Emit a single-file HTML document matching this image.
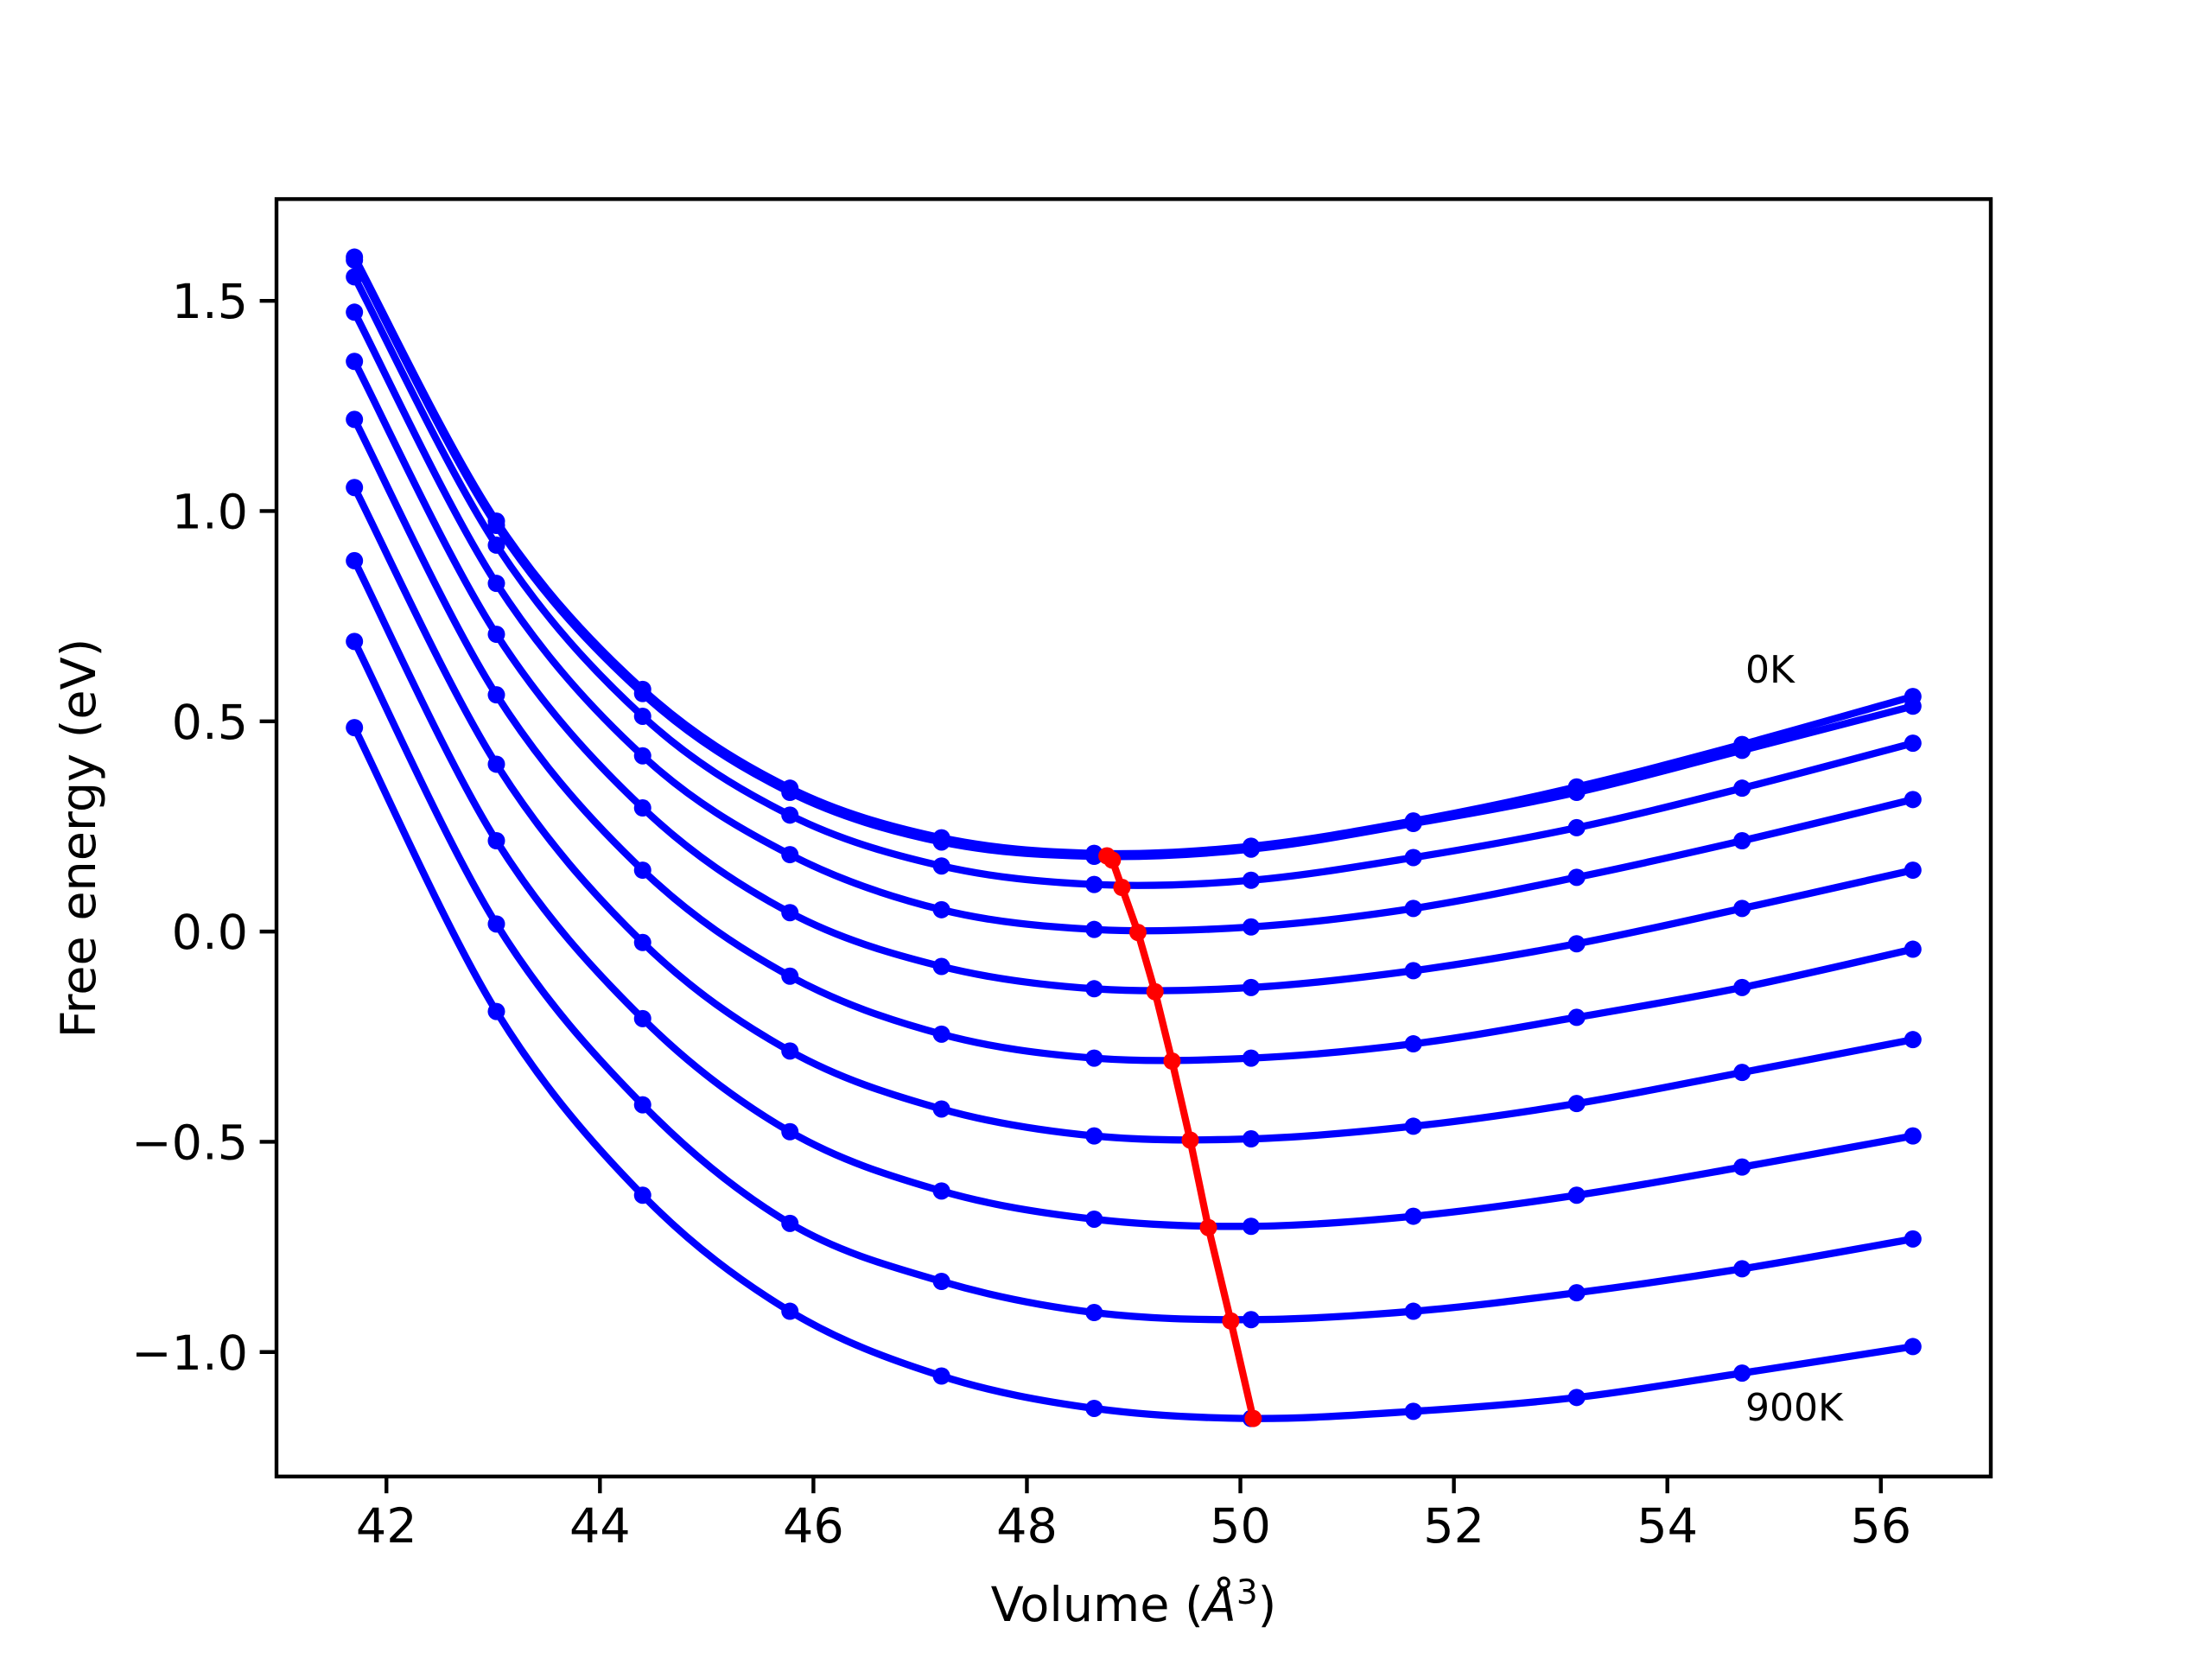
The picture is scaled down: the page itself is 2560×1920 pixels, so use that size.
<!DOCTYPE html>
<html><head><meta charset="utf-8"><style>
html,body{margin:0;padding:0;background:#fff;}
svg{display:block;font-family:"DejaVu Sans","Liberation Sans",sans-serif;}
</style></head><body>
<svg id="chart" width="2560" height="1920" viewBox="0 0 2560 1920" xmlns="http://www.w3.org/2000/svg">
<rect width="2560" height="1920" fill="#fff"/>
<g id="curves"></g>
<g id="minline"></g>
<g id="axes"></g>
<text x="2020" y="790" font-size="44">0K</text>
<text x="2020" y="1644" font-size="44">900K</text>
<text x="1312" y="1876" font-size="55.6" text-anchor="middle">Volume (<tspan font-style="italic">Å</tspan><tspan font-size="39" dy="-20">3</tspan><tspan dy="20">)</tspan></text>
<text x="0" y="0" font-size="55.6" text-anchor="middle" transform="translate(110,970) rotate(-90)">Free energy (eV)</text>
</svg>
<script>
const volumes = [41.7, 43.03, 44.4, 45.78, 47.2, 48.63, 50.1, 51.62, 53.15, 54.7, 56.3];
const energies0 = [1.604, 0.976, 0.576, 0.341, 0.223, 0.186, 0.203, 0.263, 0.344, 0.445, 0.559];
const energies1 = [1.597, 0.966, 0.566, 0.331, 0.213, 0.179, 0.196, 0.257, 0.331, 0.431, 0.536];
const energies2 = [1.557, 0.919, 0.512, 0.277, 0.156, 0.112, 0.122, 0.176, 0.247, 0.341, 0.448];
const energies3 = [1.473, 0.828, 0.418, 0.183, 0.052, 0.005, 0.011, 0.055, 0.129, 0.216, 0.314];
const energies4 = [1.356, 0.707, 0.294, 0.045, -0.083, -0.136, -0.133, -0.093, -0.029, 0.055, 0.146];
const energies5 = [1.218, 0.563, 0.146, -0.106, -0.244, -0.301, -0.301, -0.267, -0.204, -0.133, -0.042];
const energies6 = [1.056, 0.398, -0.026, -0.284, -0.422, -0.486, -0.493, -0.463, -0.409, -0.335, -0.257];
const energies7 = [0.882, 0.216, -0.207, -0.476, -0.617, -0.684, -0.701, -0.677, -0.627, -0.560, -0.486];
const energies8 = [0.690, 0.018, -0.412, -0.694, -0.832, -0.906, -0.923, -0.903, -0.859, -0.802, -0.731];
const energies9 = [0.485, -0.190, -0.627, -0.903, -1.057, -1.134, -1.158, -1.141, -1.108, -1.050, -0.987];
const minVolumes = [48.75, 48.80, 48.89, 49.04, 49.20, 49.36, 49.53, 49.70, 49.91, 50.12];
const minEnergies = [0.180, 0.170, 0.105, -0.002, -0.143, -0.308, -0.496, -0.704, -0.926, -1.158];
const xTicks = [42, 44, 46, 48, 50, 52, 54, 56];
const yTicks = [1.5, 1.0, 0.5, 0.0, -0.5, -1.0];
const yTickLabels = ["1.5", "1.0", "0.5", "0.0", "\u22120.5", "\u22121.0"];

const L=320,R=2304,T=230.4,B=1708.8;
const X0=40.97,X1=57.03,Y0=-1.296,Y1=1.742;
const sx=v=>L+(v-X0)/(X1-X0)*(R-L);
const sy=v=>B-(v-Y0)/(Y1-Y0)*(B-T);
const NS="http://www.w3.org/2000/svg";
function mk(tag,attrs,parent){const e=document.createElementNS(NS,tag);for(const k in attrs)e.setAttribute(k,attrs[k]);parent.appendChild(e);return e;}

function smoothPath(xs,ys){
  const p=xs.map((x,i)=>[sx(x),sy(ys[i])]);
  let d="M"+p[0][0]+","+p[0][1];
  for(let i=0;i<p.length-1;i++){
    const p0=p[i-1]||p[i],p1=p[i],p2=p[i+1],p3=p[i+2]||p2;
    const c1=[p1[0]+(p2[0]-p0[0])/6,p1[1]+(p2[1]-p0[1])/6];
    const c2=[p2[0]-(p3[0]-p1[0])/6,p2[1]-(p3[1]-p1[1])/6];
    d+=" C"+c1[0]+","+c1[1]+" "+c2[0]+","+c2[1]+" "+p2[0]+","+p2[1];
  }
  return d;
}

const series=[energies0,energies1,energies2,energies3,energies4,energies5,energies6,energies7,energies8,energies9];
const cg=document.getElementById('curves');
series.forEach((s,k)=>{
  const g=mk('g',{},cg);
  
  
  const path=mk('path',{d:smoothPath(volumes,s),fill:'none',stroke:'#0000ff','stroke-width':8.3,'stroke-linejoin':'round'},g);
  
  
  s.forEach((v,i)=>{
    const c=mk('circle',{cx:sx(volumes[i]),cy:sy(v),r:10,fill:'#0000ff'},g);
    
    
  });
});

const mg=document.getElementById('minline');
const pl=mk('polyline',{points:minVolumes.map((v,i)=>sx(v)+","+sy(minEnergies[i])).join(" "),fill:'none',stroke:'#ff0000','stroke-width':8.3,'stroke-linejoin':'round'},mg);


minVolumes.forEach((v,i)=>{
  const c=mk('circle',{cx:sx(v),cy:sy(minEnergies[i]),r:10,fill:'#ff0000'},mg);
  
  
});

const ag=document.getElementById('axes');
const frame=mk('rect',{x:L,y:T,width:R-L,height:B-T,fill:'none',stroke:'#000','stroke-width':4.4},ag);


xTicks.forEach(t=>{
  const x=sx(t);
  const ln=mk('line',{x1:x,x2:x,y1:B,y2:B+19.4,stroke:'#000','stroke-width':4.4},ag);
  
  
  const tx=mk('text',{x:x,y:B+76,'font-size':55.6,'text-anchor':'middle'},ag);
  tx.textContent=String(t);
  
  
});
yTicks.forEach((t,i)=>{
  const y=sy(t);
  const ln=mk('line',{x1:L-19.4,x2:L,y1:y,y2:y,stroke:'#000','stroke-width':4.4},ag);
  
  
  const tx=mk('text',{x:L-33,y:y+20,'font-size':55.6,'text-anchor':'end'},ag);
  tx.textContent=yTickLabels[i];
  
  
});
</script>
</body></html>
